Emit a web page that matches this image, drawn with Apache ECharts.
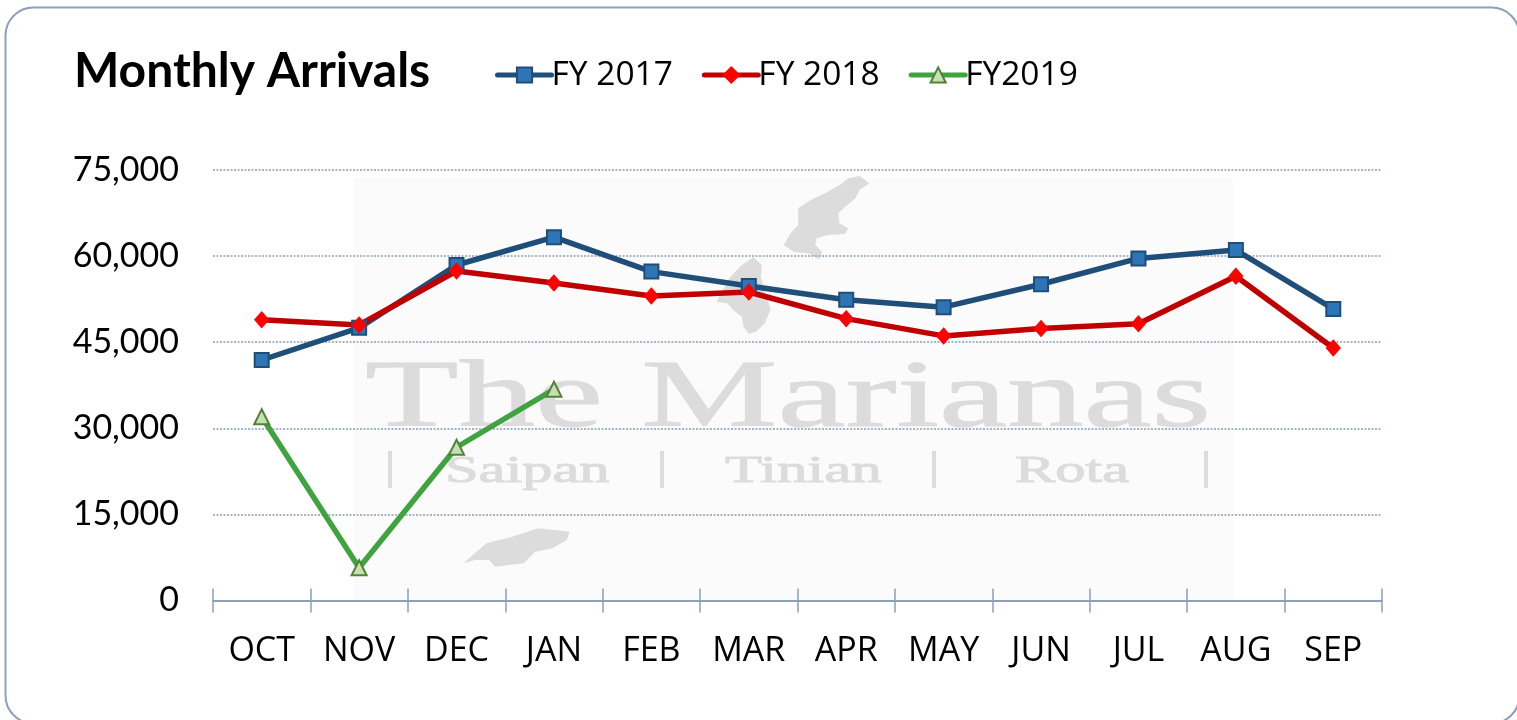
<!DOCTYPE html>
<html>
<head>
<meta charset="utf-8">
<style>
    html, body {margin: 0; padding: 0; background: #fff;}
    #chart {width: 1517px; height: 720px;}
</style>
<script src="https://cdn.jsdelivr.net/npm/echarts@6/dist/echarts.min.js"></script>
</head>
<body>
<div id="chart"></div>
<script>
const months = ['OCT', 'NOV', 'DEC', 'JAN', 'FEB', 'MAR', 'APR', 'MAY', 'JUN', 'JUL', 'AUG', 'SEP']
const fy2017 = [41900, 47500, 58450, 63300, 57300, 54800, 52400, 51100, 55100, 59600, 61050, 50800]
const fy2018 = [48900, 48000, 57400, 55300, 53050, 53750, 49100, 46100, 47400, 48200, 56500, 44000]
const fy2019 = [32000, 5700, 26700, 36800]

const axisColor = '#8c9fbb'
const markColor = '#dcdcdc'

const fromCrop = (pts) => pts.map(([x, y]) => [340 + x / 1.742, 170 + y / 3])
const islandNorth = fromCrop([[905, 18], [922, 40], [905, 60], [898, 85], [880, 110], [868, 130], [870, 160], [885, 175], [880, 192], [850, 195], [830, 205], [828, 225], [840, 245], [835, 268], [815, 250], [790, 245], [773, 225], [785, 190], [798, 165], [798, 115], [820, 90], [850, 65], [875, 40], [885, 25]])
const islandMiddle = fromCrop([[720, 262], [735, 285], [733, 320], [750, 420], [740, 460], [725, 485], [712, 492], [703, 470], [700, 440], [685, 420], [675, 400], [656, 395], [665, 365], [680, 320], [700, 285]])
const islandSouth = fromCrop([[345, 1075], [400, 1085], [395, 1110], [370, 1135], [340, 1145], [320, 1180], [270, 1190], [260, 1170], [235, 1170], [215, 1180], [235, 1150], [255, 1120], [300, 1100]])

const island = (points) => ({
    type: 'polygon',
    silent: true,
    z: -1,
    shape: {points},
    style: {fill: markColor},
})
const markText = (text, x, y, fontSize, scaleX) => ({
    type: 'text',
    silent: true,
    z: -1,
    x,
    y,
    scaleX,
    style: {
        text,
        fill: markColor,
        stroke: markColor,
        lineWidth: 1,
        font: `${fontSize}px "Liberation Serif"`,
        textAlign: 'left',
        textVerticalAlign: 'bottom',
    },
})
const markBar = (x) => ({
    type: 'rect',
    silent: true,
    z: -1,
    shape: {x, y: 451, width: 4, height: 37},
    style: {fill: markColor},
})

const myChart = echarts.init(document.getElementById('chart'))
myChart.setOption({
    animation: false,
    backgroundColor: '#fff',
    textStyle: {fontFamily: '"Open Sans"', color: '#000'},
    title: {
        text: 'Monthly Arrivals',
        left: 74,
        top: 48,
        padding: 0,
        textStyle: {fontFamily: 'Lato', fontWeight: 'bold', fontSize: 48, color: '#000'},
    },
    legend: {
        left: 495,
        top: 58,
        padding: 0,
        itemWidth: 54,
        itemHeight: 19,
        itemGap: 29,
        lineStyle: {width: 5, cap: 'round'},
        textStyle: {fontFamily: '"Open Sans"', fontSize: 33.5, color: '#000', padding: [0, 0, 0, -5]},
        data: ['FY 2017', 'FY 2018', 'FY2019'],
    },
    grid: {left: 213, right: 135, top: 170, bottom: 119.5},
    xAxis: [
        {
            type: 'category',
            data: months,
            boundaryGap: true,
            axisLine: {lineStyle: {color: axisColor, width: 2}},
            axisTick: {show: true, alignWithLabel: false, interval: 0, length: 12, lineStyle: {color: axisColor, width: 1.5}},
            axisLabel: {fontFamily: '"Open Sans"', fontSize: 34, color: '#000', margin: 34},
        },
        {
            // second axis only to carry the upper half of the ticks
            type: 'category',
            position: 'bottom',
            data: months,
            axisLine: {show: false},
            axisTick: {show: true, inside: true, interval: 0, length: 12, lineStyle: {color: axisColor, width: 1.5}},
            axisLabel: {show: false},
        },
    ],
    yAxis: {
        type: 'value',
        min: 0,
        max: 75000,
        interval: 15000,
        axisLine: {show: false},
        axisTick: {show: false},
        axisLabel: {
            fontFamily: 'Lato',
            fontSize: 34,
            color: '#000',
            margin: 34,
            formatter: (val) => val.toLocaleString('en-US'),
        },
        splitLine: {
            lineStyle: {color: axisColor, width: 1.5, type: [2, 1.5]},
            showMinLine: false,
        },
    },
    graphic: [
        {
            type: 'rect',
            silent: true,
            z: -2,
            shape: {x: 5.5, y: 7.5, width: 1514, height: 716, r: 28},
            style: {fill: '#fff', stroke: axisColor, lineWidth: 2},
        },
        {
            type: 'rect',
            silent: true,
            z: -2,
            shape: {x: 354, y: 178, width: 879, height: 422},
            style: {fill: '#fbfbfb'},
        },
        island(islandNorth),
        island(islandMiddle),
        island(islandSouth),
        markText('The Marianas', 365, 449, 96, 1.595),
        markText('Saipan', 445, 491, 38, 1.59),
        markText('Tinian', 725, 491, 38, 1.6),
        markText('Rota', 1015, 491, 38, 1.59),
        markBar(388),
        markBar(660),
        markBar(932),
        markBar(1204),
    ],
    series: [
        {
            name: 'FY 2017',
            type: 'line',
            data: fy2017,
            symbol: 'rect',
            symbolSize: 14,
            lineStyle: {color: '#1f4e79', width: 5.5},
            itemStyle: {color: '#2e75b6', borderColor: '#1f4e79', borderWidth: 2},
        },
        {
            name: 'FY 2018',
            type: 'line',
            data: fy2018,
            symbol: 'diamond',
            symbolSize: [14, 16],
            lineStyle: {color: '#c00000', width: 5.5},
            itemStyle: {color: '#ff0000', borderColor: '#ff0000', borderWidth: 1},
        },
        {
            name: 'FY2019',
            type: 'line',
            data: fy2019,
            symbol: 'triangle',
            symbolSize: 15,
            lineStyle: {color: '#3fa33f', width: 5.5},
            itemStyle: {color: '#c5e0b4', borderColor: '#548235', borderWidth: 2},
        },
    ],
})
</script>
</body>
</html>
